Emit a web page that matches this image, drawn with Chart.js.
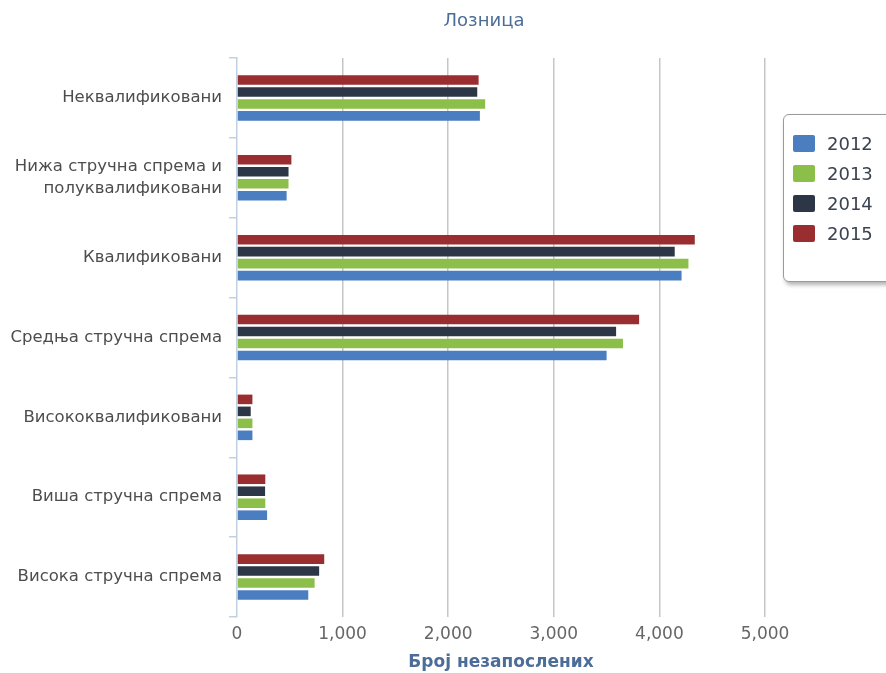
<!DOCTYPE html>
<html>
<head>
<meta charset="utf-8">
<script src="https://cdn.jsdelivr.net/npm/chart.js@4/dist/chart.umd.min.js"></script>
<style>
    body { margin: 0; background: #fff; overflow: hidden; }
    #wrap { position: relative; width: 886px; height: 673px; }
    #legenda {
        position: absolute; left: 783px; top: 114px; width: 112px; height: 168px;
        border: 1.5px solid #9a9a9a; border-radius: 6px; background: #fff;
        box-shadow: 2px 3px 4px rgba(0,0,0,0.3);
        font-family: 'DejaVu Sans', sans-serif; font-size: 18px; color: #3a4352;
        box-sizing: border-box; padding-top: 13px;
    }
    .item { height: 30px; display: flex; align-items: center; padding-left: 9px; }
    .item span.sq { width: 22px; height: 17px; margin-right: 12px; border-radius: 2px; }
</style>
</head>
<body>
<div id="wrap">
    <canvas id="grafico" width="886" height="673"></canvas>
    <div id="legenda"></div>
</div>
<script>
// datos
const categorias = [
    'Неквалификовани',
    ['Нижа стручна спрема и', 'полуквалификовани'],
    'Квалификовани',
    'Средња стручна спрема',
    'Висококвалификовани',
    'Виша стручна спрема',
    'Висока стручна спрема'
];
const anios = ['2012', '2013', '2014', '2015'];
const valores2012 = [2300, 470, 4210, 3500, 146, 285, 675];
const valores2013 = [2350, 488, 4275, 3655, 146, 268, 735];
const valores2014 = [2275, 488, 4145, 3590, 130, 266, 778];
const valores2015 = [2288, 515, 4335, 3808, 146, 268, 826];
const ticksX = [0, 1000, 2000, 3000, 4000, 5000];

const colores = ['#4a7ec0', '#8cbf4a', '#2d3646', '#992d30'];
const series = [valores2012, valores2013, valores2014, valores2015];

// leyenda html
const leg = document.getElementById('legenda');
anios.forEach((a, i) => {
    leg.innerHTML += `<div class="item"><span class="sq" style="background:${colores[i]}"></span>${a}</div>`;
});

// 2015 arriba dentro de cada grupo
const datasets = anios.map((a, i) => ({
    label: a,
    data: series[i],
    backgroundColor: colores[i],
    borderWidth: 0,
    categoryPercentage: 0.6,
    barPercentage: 0.8
})).reverse();

const tituloPlugin = {
    id: 'titulo',
    afterDraw(chart) {
        const ctx = chart.ctx;
        ctx.save();
        ctx.font = '18px "DejaVu Sans"';
        ctx.fillStyle = '#4d6d99';
        ctx.textAlign = 'center';
        ctx.textBaseline = 'middle';
        ctx.fillText('Лозница', 484, 21);
        ctx.restore();
    }
};

new Chart(document.getElementById('grafico').getContext('2d'), {
    type: 'bar',
    data: { labels: categorias, datasets: datasets },
    plugins: [tituloPlugin],
    options: {
        indexAxis: 'y',
        responsive: false,
        animation: false,
        layout: { padding: { top: 58, right: 121, left: 0, bottom: 0 } },
        plugins: {
            legend: { display: false },
            tooltip: { enabled: false }
        },
        scales: {
            x: {
                min: 0,
                max: 5000,
                afterBuildTicks: s => { s.ticks = ticksX.map(v => ({ value: v })); },
                afterFit: s => { s.height = 56; },
                border: { display: false },
                grid: {
                    color: c => c.tick && c.tick.value === 0 ? 'rgba(0,0,0,0)' : '#c6c6c6',
                    lineWidth: 1.5,
                    drawTicks: false
                },
                ticks: {
                    padding: 7,
                    color: '#666',
                    font: { family: 'DejaVu Sans', size: 17 },
                    callback: v => v.toLocaleString('en-US')
                },
                title: {
                    display: true,
                    text: 'Број незапослених',
                    color: '#4d6d99',
                    font: { family: 'DejaVu Sans', size: 17, weight: 'bold' },
                    padding: { top: 0, bottom: 0 }
                }
            },
            y: {
                afterFit: s => { s.width = 237; },
                border: { color: '#c0d0e0', width: 1.5 },
                grid: {
                    offset: true,
                    drawOnChartArea: false,
                    tickLength: 8,
                    color: '#c0d0e0',
                    lineWidth: 1.5
                },
                ticks: {
                    padding: 7,
                    color: '#4d4d4d',
                    font: { family: 'DejaVu Sans', size: 16.5, lineHeight: 1.35 }
                }
            }
        }
    }
});
</script>
</body>
</html>
